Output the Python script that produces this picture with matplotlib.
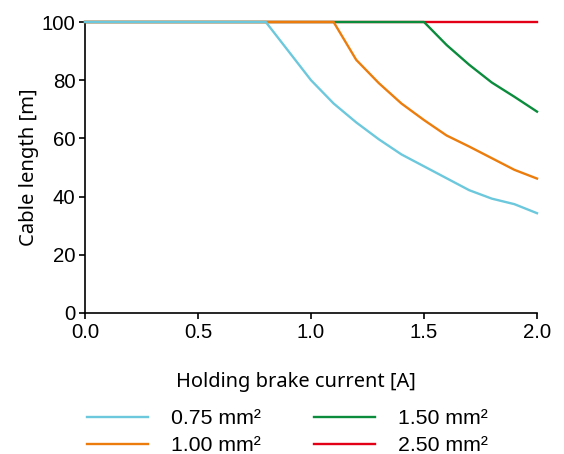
import matplotlib
matplotlib.use("Agg")
import matplotlib.pyplot as plt

# cable length vs holding brake current, one curve per cross-section
current = [0.0, 0.8, 0.9, 1.0, 1.1, 1.2, 1.3, 1.4, 1.5, 1.6, 1.7, 1.8, 1.9, 2.0]
len_075 = [100, 100, 90, 80, 72, 65.5, 59.7, 54.5, 50.4, 46.3, 42.2, 39.3, 37.4, 34.3]
len_100 = [100, 100, 100, 100, 100, 87, 79, 72, 66.3, 61, 57.2, 53.2, 49.2, 46.2]
len_150 = [100, 100, 100, 100, 100, 100, 100, 100, 100, 92.1, 85.3, 79.2, 74.3, 69.2]
len_250 = [100, 100, 100, 100, 100, 100, 100, 100, 100, 100, 100, 100, 100, 100]

labels = ["0.75 mm²", "1.00 mm²", "1.50 mm²", "2.50 mm²"]
colors = ["#6CC8DC", "#EC7D0C", "#0A8C3C", "#E30016"]
series = [len_075, len_100, len_150, len_250]

fig = plt.figure(figsize=(5.64, 4.54), dpi=100)
ax = fig.add_axes([85 / 564, 1 - 313 / 454, (537 - 85) / 564, (313 - 22) / 454])

# later series sit under earlier ones, so the smaller cross-sections show on top
for i, (vals, lab, col) in enumerate(zip(series, labels, colors)):
    ax.plot(current, vals, color=col, lw=1.7, label=lab, clip_on=False, zorder=10 - i)

ax.set_xlim(0, 2.0)
ax.set_ylim(0, 100)
ax.set_xticks([0.0, 0.5, 1.0, 1.5, 2.0])
ax.set_xticklabels(["0.0", "0.5", "1.0", "1.5", "2.0"])
ax.set_yticks([0, 20, 40, 60, 80, 100])

for side in ["top", "right"]:
    ax.spines[side].set_visible(False)
for side in ["left", "bottom"]:
    ax.spines[side].set_linewidth(1.2)
    ax.spines[side].set_color("black")

ax.tick_params(direction="out", length=4, width=1.2, labelsize=14.7, pad=3)
for t in ax.get_xticklabels() + ax.get_yticklabels():
    t.set_fontfamily("Liberation Sans")

ax.set_xlabel("Holding brake current [A]", fontfamily="Noto Sans", fontsize=14.4,
              labelpad=22, x=0.467)
ax.set_ylabel("Cable length [m]", fontfamily="Noto Sans", fontsize=14.6, labelpad=2)

fig.legend(loc="upper left", bbox_to_anchor=(87 / 564, 1 - 409 / 454), ncol=2,
           frameon=False, prop={"family": "Liberation Sans", "size": 15.3},
           handlelength=2.85, handletextpad=1.1, columnspacing=2.5, labelspacing=0.38,
           borderpad=0, borderaxespad=0)

fig.savefig("out.png", dpi=100)
